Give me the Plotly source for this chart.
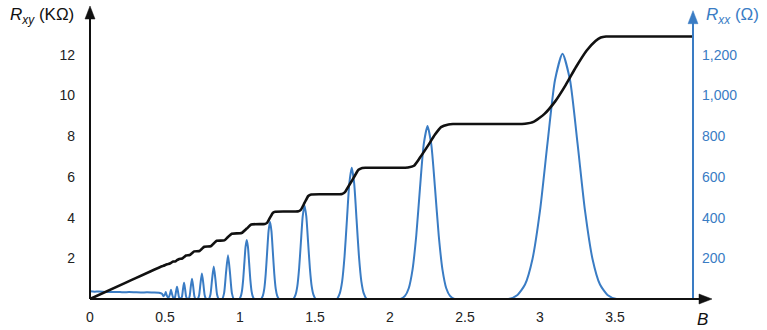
import plotly.graph_objects as go

# ---- data ----
# Hall resistance R_xy (kOhm) vs B
rxy_b = [0, 0.25, 0.48, 0.49, 0.505, 0.52, 0.53, 0.54, 0.555, 0.57, 0.58, 0.595, 0.615,
         0.627, 0.64, 0.665, 0.68, 0.695, 0.73, 0.746, 0.762, 0.805, 0.825, 0.845, 0.895,
         0.92, 0.945, 1.01, 1.045, 1.075, 1.165, 1.18, 1.20, 1.22, 1.235, 1.39, 1.405,
         1.43, 1.455, 1.475, 1.68, 1.70, 1.72, 1.745, 1.77, 1.79, 1.815, 1.84, 2.10, 2.12, 2.16,
         2.20, 2.25, 2.30, 2.34, 2.39, 2.42, 2.88, 2.90, 2.96, 3.03, 3.10, 3.17, 3.24, 3.31, 3.37,
         3.405, 3.44, 3.50, 3.60, 4.02]
rxy_k = [0, 0.84, 1.61, 1.63, 1.68, 1.72, 1.73, 1.78, 1.84, 1.85, 1.91, 1.97, 1.99,
         2.06, 2.14, 2.16, 2.25, 2.34, 2.36, 2.47, 2.57, 2.59, 2.73, 2.86, 2.88,
         3.05, 3.21, 3.24, 3.46, 3.66, 3.69, 3.74, 4.00, 4.24, 4.29, 4.31, 4.38,
         4.72, 5.06, 5.14, 5.16, 5.25, 5.50, 5.80, 6.12, 6.35, 6.44, 6.45, 6.45, 6.46, 6.55,
         6.95, 7.50, 8.08, 8.45, 8.58, 8.60, 8.60, 8.61, 8.72, 9.10, 9.70, 10.50, 11.40, 12.20, 12.68,
         12.85, 12.90, 12.90, 12.90, 12.90]

# Longitudinal resistance R_xx (Ohm) vs B
rxx_b = [0.00, 0.03, 0.06, 0.10, 0.14, 0.18, 0.22, 0.26, 0.30, 0.34, 0.38, 0.42, 0.46, 0.48,
         0.49, 0.4995, 0.505, 0.5105, 0.519,
         0.525, 0.534, 0.54, 0.546, 0.555,
         0.5605, 0.567, 0.5735, 0.58, 0.5865, 0.593, 0.5995,
         0.606, 0.613, 0.62, 0.627, 0.634, 0.641, 0.648,
         0.656, 0.664, 0.672, 0.68, 0.688, 0.696, 0.704,
         0.7175, 0.727, 0.7365, 0.746, 0.7555, 0.765, 0.7745,
         0.792, 0.803, 0.814, 0.825, 0.836, 0.847, 0.858,
         0.881, 0.894, 0.907, 0.92, 0.933, 0.946, 0.959,
         0.995, 1.005, 1.013, 1.021, 1.029, 1.037, 1.045, 1.053, 1.061, 1.069, 1.077, 1.085, 1.095,
         1.14, 1.1525, 1.162, 1.1715, 1.181, 1.1905, 1.20, 1.2095, 1.219, 1.2285, 1.238, 1.2475, 1.26,
         1.355, 1.37, 1.382, 1.394, 1.406, 1.418, 1.43, 1.442, 1.454, 1.466, 1.478, 1.49, 1.505,
         1.645, 1.665, 1.681, 1.697, 1.713, 1.729, 1.745, 1.761, 1.777, 1.793, 1.809, 1.825, 1.845,
         2.07, 2.10, 2.125, 2.15, 2.175, 2.20, 2.225, 2.25, 2.275, 2.30, 2.325, 2.35, 2.375, 2.40, 2.43,
         2.79, 2.85, 2.90, 2.95, 3.00, 3.05, 3.10, 3.15, 3.20, 3.25, 3.30, 3.35, 3.40, 3.45, 3.51,
         4.02]
rxx_o = [38, 36, 37, 35, 34, 35, 33, 34, 33, 32, 33, 32, 31, 26,
         14, 22, 34, 20, 8,
         8, 27, 45, 27, 6,
         4, 10, 37, 60, 37, 10, 4,
         2, 11, 49, 80, 49, 11, 2,
         0, 14, 61, 100, 61, 14, 0,
         0, 17, 76, 125, 76, 17, 0,
         0, 22, 98, 160, 98, 22, 0,
         0, 29, 131, 215, 131, 29, 0,
         0, 13, 39, 94, 176, 256, 290, 256, 176, 94, 39, 13, 0,
         0, 17, 51, 124, 231, 335, 380, 335, 231, 124, 51, 17, 0,
         0, 20, 62, 150, 279, 406, 460, 406, 279, 150, 62, 20, 0,
         0, 28, 87, 210, 391, 569, 645, 569, 391, 210, 87, 28, 0,
         0, 15, 53, 143, 311, 546, 761, 850, 761, 546, 311, 143, 53, 15, 0,
         0, 20, 71, 197, 434, 766, 1076, 1205, 1076, 766, 434, 197, 71, 20, 0,
         0]

x_ticks = [0, 0.5, 1, 1.5, 2, 2.5, 3, 3.5]
x_labels = ["0", "0.5", "1", "1.5", "2", "2.5", "3", "3.5"]
rxy_ticks = [2, 4, 6, 8, 10, 12]
rxx_ticks = [200, 400, 600, 800, 1000, 1200]

BLUE = "#3a7cc4"
BLACK = "#111111"
FONT = "Liberation Sans, Arial, sans-serif"

fig = go.Figure()
fig.add_trace(go.Scatter(x=rxx_b, y=rxx_o, mode="lines", yaxis="y",
                         line=dict(color=BLUE, width=2, shape="spline", smoothing=0.6),
                         showlegend=False, hoverinfo="skip"))
fig.add_trace(go.Scatter(x=rxy_b, y=rxy_k, mode="lines", yaxis="y2",
                         line=dict(color=BLACK, width=2.6, shape="spline", smoothing=0.5),
                         showlegend=False, hoverinfo="skip"))

fig.update_layout(
    width=767, height=330,
    margin=dict(l=90, r=74, t=6, b=31),
    paper_bgcolor="white", plot_bgcolor="white",
    font=dict(family=FONT, size=14, color="#222222"),
    xaxis=dict(range=[0, 4.02], tickvals=x_ticks, ticktext=x_labels, showgrid=False,
               zeroline=False, showline=False, ticks="", tickfont=dict(size=14, color="#222222"),
               ticklabelstandoff=8),
    yaxis=dict(range=[0, 1440], side="right", tickvals=rxx_ticks, tickformat=",",
               showgrid=False, zeroline=False, showline=False, ticks="",
               tickfont=dict(size=14, color=BLUE), ticklabelstandoff=8),
    yaxis2=dict(range=[0, 14.4], side="left", overlaying="y", tickvals=rxy_ticks,
                showgrid=False, zeroline=False, showline=False, ticks="",
                tickfont=dict(size=14, color="#222222"), ticklabelstandoff=14),
)

# axis lines
fig.add_shape(type="line", xref="paper", yref="paper", x0=0, x1=0, y0=0, y1=0.975,
              line=dict(color=BLACK, width=2))
fig.add_shape(type="line", xref="paper", yref="paper", x0=1, x1=1, y0=0, y1=0.96,
              line=dict(color=BLUE, width=2))
fig.add_shape(type="line", xref="paper", yref="paper", x0=0, x1=1.018, y0=0, y1=0,
              line=dict(color=BLACK, width=2))

# arrow heads (pixel-sized triangles anchored on the axis ends)
def head(xa, ya, path, color):
    fig.add_shape(type="path", xref="paper", yref="paper", xsizemode="pixel", ysizemode="pixel",
                  xanchor=xa, yanchor=ya, path=path, fillcolor=color,
                  line=dict(color=color, width=0.5))

head(0, 1.0, "M -5,-13 L 0,0 L 5,-13 Z", BLACK)
head(1, 0.984, "M -5,-13 L 0,0 L 5,-13 Z", BLUE)
head(1.0315, 0, "M -13,-5 L 0,0 L -13,5 Z", BLACK)

fig.add_annotation(x=-0.024, y=1.0, xref="paper", yref="paper", xanchor="right", yanchor="middle",
                   yshift=-10, showarrow=False,
                   text="<i>R</i><sub><i>xy</i></sub> (KΩ)", font=dict(size=17, color=BLACK))
fig.add_annotation(x=1.018, y=1.0, xref="paper", yref="paper", xanchor="left", yanchor="middle",
                   yshift=-10, showarrow=False,
                   text="<i>R</i><sub><i>xx</i></sub> (Ω)", font=dict(size=17, color=BLUE))
fig.add_annotation(x=1.004, y=0, xref="paper", yref="paper", xanchor="left", yanchor="top",
                   yshift=-9, showarrow=False,
                   text="<i>B</i>", font=dict(size=17, color=BLACK))

fig.write_html("out.html")
